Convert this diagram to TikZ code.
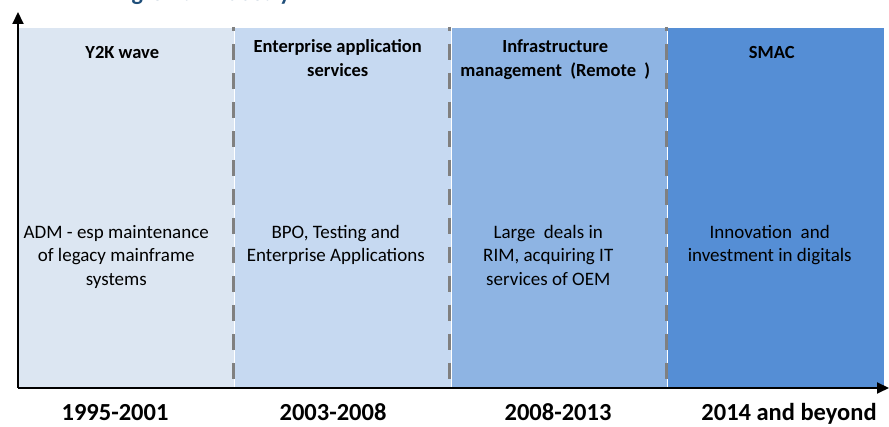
\documentclass[tikz,border=0pt]{standalone}
\usepackage{fontspec}
\setmainfont{Carlito}
\usetikzlibrary{arrows.meta,
positioning}

\definecolor{eraA}{HTML}{DCE6F2}
\definecolor{eraB}{HTML}{C6D9F1}
\definecolor{eraC}{HTML}{8EB4E3}
\definecolor{eraD}{HTML}{558ED5}
\definecolor{titleblue}{HTML}{1F4E79}

\begin{document}
\begin{tikzpicture}[
  x=1pt, y=1pt,
  every node/.style={font=\fontsize{19}{23.5}\selectfont},
  era/.style={draw=white, line width=0.8pt, outer sep=0pt, inner sep=0pt,
    minimum width=216.5pt, minimum height=361pt},
  head/.style={font=\bfseries\fontsize{18.5}{24}\selectfont, align=center, inner sep=0pt},
  body/.style={align=center, inner sep=0pt},
  year/.style={font=\bfseries\fontsize{24.5}{28}\selectfont, inner sep=0pt, anchor=base},
  divider/.style={draw=gray, line width=3pt, dash pattern=on 16pt off 13pt, dash phase=12pt},
  axis/.style={line width=2pt, -{Triangle[length=12pt,width=11pt]}}
]
  \useasboundingbox (0,0) rectangle (889,427);

  % heading, mostly above the page
  \node [
    font=\bfseries\fontsize{24}{28}\selectfont,
    text=titleblue,
    inner sep=0pt,
    anchor=base east] (ttl) at (291,426) {growth industry};

  % the four eras
  \node [era, fill=eraA, anchor=south west] (p1) at (18,39) {};
  \node [era, fill=eraB, right = 0pt of p1] (p2) {};
  \node [era, fill=eraC, right = 0pt of p2] (p3) {};
  \node [era, fill=eraD, right = 0pt of p3] (p4) {};

\foreach \i in {1,2,3} {
  \draw [divider] ([xshift=-1.5pt]p\i.north east) -- ([xshift=-1.5pt]p\i.south east);
}

\foreach \i/\dx/\dy/\txt in {1/-4/19/{Y2K wave},
    2/-5/12/{Enterprise application\\services},
    3/-4/12/{Infrastructure\\management\ \ (Remote\ \ )},
    4/-4/19/{SMAC}} {
  \node [head, below = \dy pt of p\i.north, xshift=\dx pt] (h\i) {\txt};
}

\foreach \i/\dx/\txt in {1/-10/{ADM - esp maintenance\\of legacy mainframe\\systems},
    2/-7/{BPO, Testing and\\Enterprise Applications},
    3/-11/{Large\ \ deals in\\RIM, acquiring IT\\services of OEM},
    4/-6/{Innovation\ \ and\\investment in digitals}} {
  \node [body, below = 198pt of p\i.north, xshift=\dx pt] (b\i) {\txt};
}

  % time axis
  \coordinate (ytop) at (18,415);
  \coordinate (xend) at (889,39);
  \draw [axis] (p1.south west) -- (ytop);
  \draw [axis] (p1.south west) -- (xend);

  \node [year] (y1) at (115,6) {1995-2001};
  \node [year] (y2) at (333,6) {2003-2008};
  \node [year] (y3) at (558,6) {2008-2013};
  \node [year] (y4) at (789,6) {2014 and beyond};

\end{tikzpicture}
\end{document}
